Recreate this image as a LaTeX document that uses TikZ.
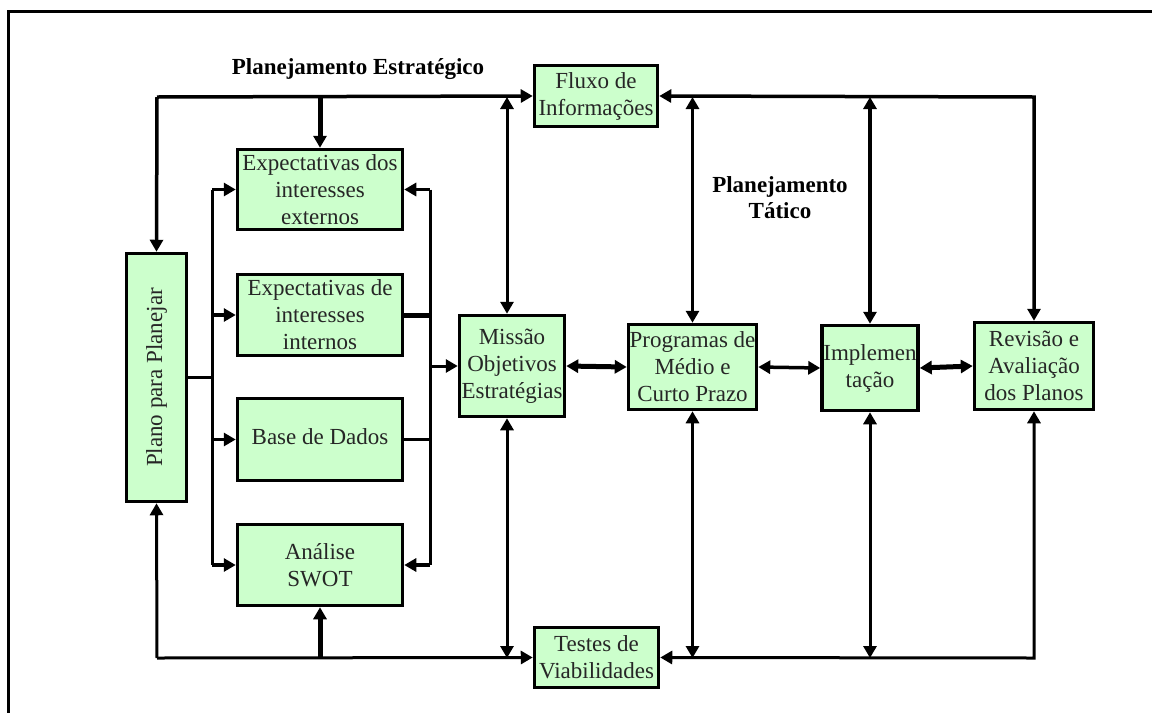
\documentclass[tikz,border=0pt]{standalone}
\usepackage{fontspec}
\setmainfont{Liberation Serif}
\usetikzlibrary{arrows.meta}
\definecolor{boxfill}{RGB}{204,255,204}
\begin{document}
\begin{tikzpicture}[x=1pt,y=-1pt,
  box/.style={draw=black, fill=boxfill, line width=3.5pt, inner sep=0pt, align=center, text=black!85, font=\fontsize{23}{27}\selectfont},
  ln/.style={line width=3pt},
  thk/.style={line width=5pt},
  tip/.style={-{Triangle[length=12pt,width=13pt]}},
  tips/.style={{Triangle[length=12pt,width=13pt]}-{Triangle[length=12pt,width=13pt]}},
  ttl/.style={font=\fontsize{23}{26}\selectfont\bfseries, align=center}
]
\useasboundingbox (0,0) rectangle (1152,713);
% frame
\draw[line width=3pt] (1152,11) -- (8,11) -- (8,713);

% titles
\node[ttl] (t1) at (358,69) {Planejamento Estratégico};
\node[ttl] (t2) at (780,198) {Planejamento\\Tático};

% boxes
\node[box, minimum width=123pt, minimum height=61pt] (fluxo) at (596,96) {Fluxo de\\Informações};
\node[box, minimum width=60pt, minimum height=248pt] (plano) at (156.5,377.5) {\rotatebox{90}{Plano para Planejar}};
\node[box, minimum width=165pt, minimum height=80pt] (exdos) at (320,189.5) {Expectativas dos\\interesses\\externos};
\node[box, minimum width=165pt, minimum height=81pt] (exde) at (320,315) {Expectativas de\\interesses\\internos};
\node[box, minimum width=165pt, minimum height=82pt] (base) at (320,439.5) {\raisebox{6pt}{Base de Dados}};
\node[box, minimum width=165pt, minimum height=81pt] (analise) at (320,565) {Análise\\SWOT};
\node[box, minimum width=105pt, minimum height=101pt] (missao) at (512,366) {Missão\\Objetivos\\Estratégias};
\node[box, minimum width=128pt, minimum height=85pt] (prog) at (692.5,367) {Programas de\\Médio e\\Curto Prazo};
\node[box, minimum width=96pt, minimum height=85pt] (impl) at (870,368) {Implemen\\tação};
\node[box, minimum width=119pt, minimum height=87pt] (rev) at (1034,366) {Revisão e\\Avaliação\\dos Planos};
\node[box, minimum width=124pt, minimum height=60pt] (testes) at (596.5,657.5) {Testes de\\Viabilidades};

% helper coordinates
\coordinate (tl) at (157,97);
\coordinate (bl) at (157,658);
\coordinate (m1) at (507,97);
\coordinate (m2) at (507,658);
\coordinate (dx) at (212,0);
\coordinate (cx) at (430,0);

% top bus
\draw[ln, line width=3.5pt, tip] (tl) -- (plano.north);
\draw[ln, line width=3.5pt, tip] (tl) -- (fluxo.west);
\draw[thk, tip] (exdos.north |- tl) -- (exdos.north);
\draw[ln, line width=3.5pt, tips] (fluxo.east) -- (rev.north |- tl) -- (rev.north);
\draw[ln, tips] (m1) -- (m1 |- missao.north);
\draw[ln, tips] (prog.north |- tl) -- (prog.north);
\draw[ln, line width=3.5pt, tips] (impl.north |- tl) -- (impl.north);

% bottom bus
\draw[ln, tip] (bl) -- (plano.south);
\draw[ln, tip] (bl) -- (testes.west);
\draw[thk, tip] (analise.south |- bl) -- (analise.south);
\draw[ln, tips] (testes.east) -- (rev.south |- bl) -- (rev.south);
\draw[ln, tips] (m2) -- (m2 |- missao.south);
\draw[ln, tips] (prog.south |- bl) -- (prog.south);
\draw[ln, tips] (impl.south |- bl) -- (impl.south);

% left distribution
\draw[ln] (plano.east) -- (plano.east -| dx);
\draw[ln] (exdos.west -| dx) -- (analise.west -| dx);
\draw[ln, tip] (exdos.west -| dx) -- (exdos.west);
\draw[ln, line width=4pt, tip] (exde.west -| dx) -- (exde.west);
\draw[ln, tip] (base.west -| dx) -- (base.west);
\draw[ln, line width=4pt, tip] (analise.west -| dx) -- (analise.west);

% right collection
\draw[ln] (exdos.east -| cx) -- (analise.east -| cx);
\draw[ln, tip] (exdos.east -| cx) -- (exdos.east);
\draw[ln, line width=4pt, tip] (analise.east -| cx) -- (analise.east);
\draw[thk] (exde.east) -- (exde.east -| cx);
\draw[ln] (base.east) -- (base.east -| cx);
\draw[ln, tip] (missao.west -| cx) -- (missao.west);

% middle chain
\draw[thk, tips] (missao.east) -- (prog.west);
\draw[ln, line width=3.5pt, tips] (prog.east) -- (impl.west);
\draw[thk, tips] (impl.east) -- (rev.west);
\end{tikzpicture}
\end{document}
